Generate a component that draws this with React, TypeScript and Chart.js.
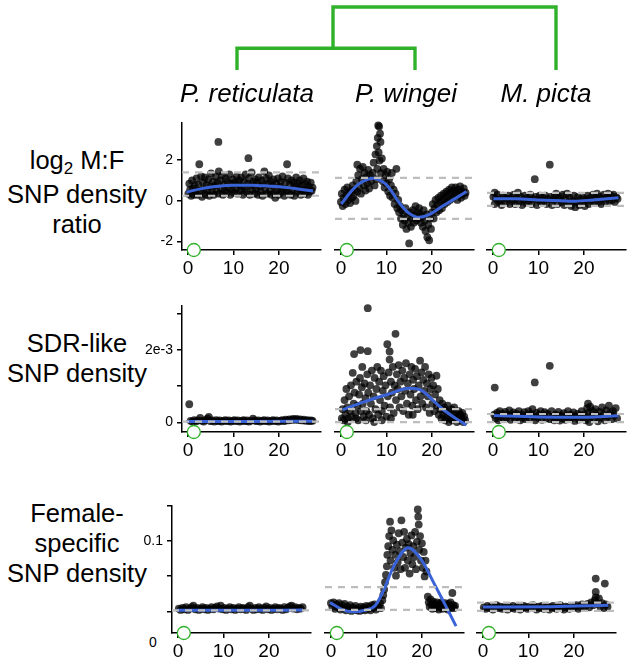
import React, { useEffect, useRef } from 'react';
import { Chart, registerables } from 'chart.js';
Chart.register(...registerables);

type P = [number, number];

// ---------------- data ----------------
const SPECIES = ['P. reticulata', 'P. wingei', 'M. picta'];
const X_MIN = -1.3;
const X_MAX = 29.3;
const X_TICKS = [0, 10, 20];
const MARKER_X = 1.3;

// dendrogram: leaf x (ret, wing, picta), root join x, heights
const DENDRO_LEAF_X = [237, 415, 556];
const DENDRO_JOIN_X = 333;
const DENDRO_CLADE_H = 1;
const DENDRO_ROOT_H = 2.9;

// Row 1: log2 M:F SNP density ratio
const R1_Y_MIN = -2.42, R1_Y_MAX = 3.86;
const R1_TICKS = [-2, 0, 2];
const retMF: P[] = [[0.1,0.35],[0.3,0.85],[0.5,0.55],[0.7,0.25],[0.9,1.0],[1.1,0.6],[1.3,0.3],[1.5,0.75],[1.7,0.45],[1.9,1.1],[2.1,0.3],[2.3,0.8],[2.5,1.8],[2.7,0.5],[2.9,1.2],[3.1,0.2],[3.3,0.9],[3.5,0.55],[3.7,1.15],[3.9,0.3],[4.1,0.8],[4.3,0.5],[4.5,1.05],[4.7,0.25],[4.9,0.7],[5.1,1.35],[5.3,0.45],[5.5,0.95],[5.7,0.3],[5.9,0.75],[6.1,1.2],[6.3,0.5],[6.5,0.9],[6.7,2.9],[6.8,1.45],[6.9,0.35],[7.1,1.0],[7.3,0.6],[7.5,1.25],[7.7,0.3],[7.9,0.8],[8.1,0.55],[8.3,1.1],[8.5,0.4],[8.7,0.95],[8.9,0.65],[9.1,1.3],[9.3,0.3],[9.5,0.85],[9.7,0.55],[9.9,1.05],[10.1,0.4],[10.3,0.9],[10.5,0.6],[10.7,1.2],[10.9,0.35],[11.1,0.8],[11.3,1.0],[11.5,0.5],[11.7,1.15],[11.9,0.7],[12.1,0.3],[12.3,0.95],[12.5,0.6],[12.7,1.3],[12.9,0.45],[13.1,0.85],[13.3,2.1],[13.4,1.1],[13.6,0.3],[13.8,0.75],[14.0,1.4],[14.2,0.55],[14.4,0.95],[14.6,0.35],[14.8,1.05],[15.0,0.6],[15.2,0.9],[15.4,0.3],[15.6,1.15],[15.8,0.7],[16.0,0.45],[16.2,1.0],[16.4,0.25],[16.6,0.8],[16.8,1.45],[17.0,0.55],[17.2,1.1],[17.4,0.35],[17.6,0.85],[17.8,1.25],[18.0,0.5],[18.2,0.95],[18.4,0.3],[18.6,0.75],[18.8,1.05],[19.0,0.4],[19.2,0.15],[19.4,0.85],[19.6,0.55],[19.8,1.1],[20.0,0.3],[20.2,0.7],[20.4,0.95],[20.6,0.45],[20.8,1.2],[21.0,0.6],[21.2,0.25],[21.4,0.9],[21.6,0.5],[21.8,1.8],[22.0,1.1],[22.2,0.4],[22.4,0.8],[22.6,0.3],[22.8,1.0],[23.0,0.55],[23.2,0.9],[23.4,0.25],[23.6,0.7],[23.8,1.15],[24.0,0.45],[24.2,0.85],[24.4,0.6],[24.6,1.0],[24.8,0.3],[25.0,0.75],[25.2,0.5],[25.4,1.1],[25.6,0.35],[25.8,0.8],[26.0,0.55],[26.2,0.95],[26.4,0.3],[26.6,0.7],[26.8,0.45],[27.0,0.9],[27.2,0.5],[27.4,0.65]];
const retMFCurve: P[] = [[-0.3,0.43],[3,0.6],[6,0.7],[10,0.77],[14,0.77],[18,0.72],[22,0.65],[25,0.56],[27.5,0.48]];
const retMFDash = [0.25, 1.4];

const wingMF: P[] = [[0.0,-0.1],[0.2,0.3],[0.4,-0.3],[0.6,0.1],[0.8,0.5],[1.0,-0.2],[1.2,0.2],[1.4,0.6],[1.6,0.0],[1.8,0.35],[2.0,-0.15],[2.2,0.45],[2.4,0.1],[2.6,0.7],[2.8,0.2],[3.0,0.5],[3.2,-0.05],[3.4,0.9],[3.6,1.7],[3.6,0.4],[3.8,1.2],[4.0,0.6],[4.2,1.5],[4.4,0.3],[4.6,1.0],[4.8,1.6],[5.0,0.7],[5.2,1.3],[5.4,0.45],[5.6,1.1],[5.8,0.8],[6.0,1.45],[6.2,0.55],[6.4,1.2],[6.6,0.9],[7.0,1.3],[7.2,1.8],[7.4,0.7],[7.6,2.2],[7.8,1.0],[7.9,2.6],[8.0,1.5],[8.1,3.0],[8.2,3.6],[8.4,3.55],[8.3,2.3],[8.6,3.2],[8.5,1.9],[8.7,2.8],[8.8,1.3],[9.0,2.0],[9.2,0.9],[9.4,1.5],[9.6,0.6],[9.8,1.2],[10.0,0.8],[10.2,1.35],[10.4,0.4],[10.6,1.0],[10.8,0.2],[11.0,0.7],[11.2,1.3],[11.4,0.1],[11.6,0.5],[11.8,-0.2],[12.0,0.3],[12.2,1.5],[12.4,-0.4],[12.6,0.0],[12.8,-0.6],[13.0,-0.3],[13.2,-0.9],[13.4,-0.5],[13.6,-1.2],[13.8,-0.7],[14.0,-1.0],[14.2,-0.4],[14.4,-1.4],[14.6,-0.8],[14.8,-1.1],[15.0,-2.1],[15.2,-0.6],[15.4,-1.3],[15.6,-0.9],[15.8,-0.5],[16.0,-1.1],[16.2,-0.75],[16.4,-0.3],[16.6,-1.0],[16.8,-0.6],[17.0,-0.9],[17.2,-0.4],[17.4,-0.7],[17.6,-1.1],[17.8,-0.8],[18.0,-1.3],[18.2,-0.5],[18.4,-1.0],[18.6,-1.5],[18.8,-0.7],[19.0,-1.8],[19.2,-1.2],[19.4,-1.95],[19.6,-0.9],[19.8,-1.4],[20.0,-0.6],[20.2,-0.2],[20.4,-0.9],[20.6,-0.4],[20.8,0.0],[21.0,-0.6],[21.2,-0.25],[21.4,0.1],[21.6,-0.5],[21.8,-0.1],[22.0,0.2],[22.2,-0.4],[22.4,0.0],[22.6,0.3],[22.8,-0.2],[23.0,0.15],[23.2,0.4],[23.4,-0.1],[23.6,0.25],[23.8,0.5],[24.0,0.0],[24.2,0.35],[24.4,0.6],[24.6,0.1],[24.8,0.45],[25.0,0.2],[25.2,0.6],[25.4,0.3],[25.6,0.0],[25.8,0.5],[26.0,0.25],[26.2,0.65],[26.4,0.1],[26.6,0.4],[26.8,0.3],[27.0,0.55],[27.2,0.2],[27.4,0.35]];
const wingMFCurve: P[] = [[0.1,-0.2],[2,0.35],[4,0.78],[7.2,1.05],[9,0.9],[10.4,0.64],[12.9,-0.16],[15,-0.65],[17.2,-0.84],[19.5,-0.7],[22.2,-0.32],[25,0.05],[27.6,0.4]];
const wingMFDash = [-0.92, 1.06];

const picMF: P[] = [[0.1,0.15],[0.4,-0.2],[0.7,0.05],[1.0,0.25],[1.3,-0.1],[1.6,0.0],[1.9,-0.25],[2.2,0.2],[2.5,0.1],[2.8,-0.15],[3.1,0.05],[3.4,0.2],[3.7,-0.2],[4.0,0.1],[4.3,-0.05],[4.6,0.25],[4.9,-0.2],[5.2,0.05],[5.5,0.35],[5.8,-0.1],[6.1,0.15],[6.4,-0.25],[6.7,0.0],[7.0,0.2],[7.3,-0.15],[7.6,0.1],[7.9,-0.05],[8.2,0.25],[8.5,-0.2],[8.8,0.05],[9.2,1.0],[9.4,0.15],[9.7,-0.25],[10.0,0.0],[10.3,0.2],[10.6,-0.15],[10.9,0.1],[11.2,-0.05],[11.5,0.2],[11.8,-0.2],[12.1,0.05],[12.5,1.7],[12.7,0.15],[13.0,-0.25],[13.3,0.0],[13.6,0.2],[13.9,0.3],[14.2,-0.2],[14.5,0.05],[14.8,0.15],[15.1,-0.1],[15.4,0.25],[15.7,-0.25],[16.0,0.0],[16.3,0.3],[16.6,-0.15],[16.9,0.1],[17.2,-0.3],[17.5,-0.05],[17.8,0.2],[18.1,-0.35],[18.4,-0.1],[18.7,0.15],[19.0,-0.25],[19.3,0.05],[19.6,-0.15],[19.9,0.1],[20.2,-0.3],[20.5,0.0],[20.8,0.2],[21.1,-0.2],[21.4,0.1],[21.7,-0.05],[22.0,0.25],[22.3,-0.15],[22.6,0.1],[22.9,0.3],[23.2,-0.1],[23.5,0.15],[23.8,-0.2],[24.1,0.05],[24.4,0.25],[24.7,-0.1],[25.0,0.1],[25.3,0.3],[25.6,-0.05],[25.9,0.2],[26.2,0.0],[26.5,0.25],[26.8,-0.1],[27.1,0.15],[27.4,0.05],[0.4,0.35]];
const picMFCurve: P[] = [[0.1,0.05],[5,0.05],[10,0.0],[15,-0.04],[18,-0.06],[22,0.0],[27.6,0.1]];
const picMFDash = [-0.29, 0.34];

// Row 2: SDR-like SNP density (values in units of 1e-3)
const SDR_UNIT = 1e-3;
const R2_Y_MIN = -0.27, R2_Y_MAX = 3.24;
const R2_TICKS = [0, 1, 2, 3];
const R2_LABELED = [0, 2];
const retSDR: P[] = [[0.3,0.5],[0.6,0.04],[1.0,0.02],[1.4,0.06],[1.8,0.03],[2.2,0.05],[2.7,0.12],[3.1,0.04],[3.5,0.02],[3.9,0.06],[4.3,0.1],[4.6,0.15],[5.0,0.03],[5.4,0.05],[5.8,0.02],[6.2,0.06],[6.6,0.03],[7.0,0.05],[7.4,0.02],[7.8,0.04],[8.2,0.06],[8.6,0.03],[9.0,0.05],[9.4,0.02],[9.8,0.04],[10.2,0.06],[10.6,0.03],[11.0,0.05],[11.4,0.02],[11.8,0.04],[12.2,0.06],[12.6,0.03],[13.0,0.05],[13.4,0.02],[13.8,0.04],[14.3,0.1],[14.7,0.05],[15.1,0.03],[15.5,0.05],[15.9,0.02],[16.3,0.04],[16.7,0.06],[17.1,0.03],[17.5,0.05],[17.9,0.02],[18.3,0.04],[18.7,0.06],[19.1,0.03],[19.5,0.05],[19.9,0.02],[20.3,0.04],[20.7,0.06],[21.1,0.03],[21.5,0.07],[21.9,0.05],[22.3,0.08],[22.7,0.06],[23.1,0.09],[23.5,0.07],[23.9,0.09],[24.3,0.06],[24.7,0.08],[25.1,0.05],[25.5,0.07],[25.9,0.04],[26.3,0.06],[26.7,0.03],[27.1,0.05],[27.4,0.04]];
const retSDRCurve: P[] = [[-0.3,0.02],[13,0.02],[27.5,0.03]];
const retSDRDash = [0.015];

const wingSDR: P[] = [[0.2,0.1],[0.4,0.35],[0.6,0.05],[0.8,0.6],[1.0,0.2],[1.2,0.9],[1.4,0.4],[1.5,0.0],[1.6,0.1],[1.8,0.7],[2.0,0.3],[2.2,1.0],[2.4,0.15],[2.6,1.34],[2.8,0.5],[2.9,1.85],[3.0,0.8],[3.2,0.25],[3.3,0.1],[3.4,1.1],[3.6,0.45],[3.8,0.05],[4.0,0.75],[4.2,1.2],[4.3,1.96],[4.4,0.3],[4.6,0.95],[4.7,1.5],[4.8,0.5],[5.0,0.15],[5.2,1.05],[5.4,0.65],[5.5,0.05],[5.6,0.3],[5.8,1.3],[5.9,1.93],[5.9,3.1],[6.0,0.8],[6.2,0.2],[6.4,1.0],[6.6,0.5],[6.8,1.4],[7.0,0.1],[7.2,0.7],[7.3,0.0],[7.4,1.2],[7.6,0.35],[7.8,0.9],[8.0,1.5],[8.2,0.2],[8.4,1.1],[8.6,0.6],[8.8,1.4],[9.0,0.3],[9.0,0.05],[9.2,0.85],[9.4,1.25],[9.6,0.45],[9.8,1.0],[10.0,0.15],[10.2,2.12],[10.3,0.7],[10.5,1.35],[10.7,1.92],[10.7,1.7],[10.8,0.4],[11.0,1.1],[11.0,0.1],[11.2,0.8],[11.4,1.5],[11.6,0.25],[11.8,1.0],[12.0,2.4],[12.1,0.6],[12.3,1.3],[12.5,0.9],[12.7,1.55],[12.9,0.4],[13.1,1.1],[13.3,0.7],[13.5,1.4],[13.7,0.3],[13.9,1.2],[14.1,0.85],[14.3,1.6],[14.5,0.5],[14.7,1.05],[14.9,0.2],[15.1,1.3],[15.3,0.75],[15.5,1.5],[15.7,0.45],[15.8,0.2],[15.9,1.15],[16.1,0.9],[16.3,1.45],[16.5,0.6],[16.7,1.25],[16.9,0.35],[17.1,1.0],[17.4,1.67],[17.5,0.7],[17.7,1.35],[17.9,0.5],[18.1,1.15],[18.3,0.85],[18.5,1.5],[18.7,0.4],[18.9,1.05],[19.1,0.7],[19.3,1.3],[19.5,0.25],[19.7,0.9],[19.9,1.2],[20.1,0.5],[20.3,1.0],[20.5,0.3],[20.7,0.75],[21.0,1.26],[21.1,0.45],[21.3,0.9],[21.5,0.2],[21.7,0.6],[21.9,0.35],[22.1,0.1],[22.3,0.5],[22.5,0.2],[22.7,0.4],[22.9,0.05],[23.1,0.3],[23.3,0.15],[23.5,0.45],[23.7,0.0],[23.9,0.25],[24.1,0.1],[24.3,0.35],[24.5,0.05],[24.7,0.2],[24.9,0.4],[25.1,0.1],[25.3,0.25],[25.5,0.0],[25.7,0.15],[25.9,0.3],[26.1,0.05],[26.3,0.2],[26.5,0.1],[26.7,0.25],[26.9,0.0],[27.1,0.15],[27.3,0.05]];
const wingSDRCurve: P[] = [[0.4,0.33],[5,0.55],[10.2,0.75],[15,0.92],[17.6,0.87],[20,0.62],[22.2,0.37],[25,0.12],[27.6,-0.08]];
const wingSDRDash = [0.0, 0.35];

const picSDR: P[] = [[0.4,0.94],[0.3,0.2],[0.6,0.1],[0.9,0.25],[1.2,0.05],[1.5,0.3],[1.8,0.15],[2.1,0.22],[2.4,0.08],[2.7,0.28],[3.0,0.12],[3.3,0.2],[3.6,0.32],[3.9,0.06],[4.2,0.18],[4.5,0.26],[4.8,0.1],[5.1,0.22],[5.4,0.14],[5.7,0.3],[6.0,0.05],[6.3,0.2],[6.6,0.12],[6.9,0.27],[7.2,0.08],[7.5,0.18],[7.8,0.3],[8.1,0.1],[8.4,0.22],[8.7,0.35],[9.0,0.15],[9.2,1.08],[9.3,0.05],[9.6,0.25],[9.9,0.12],[10.2,0.2],[10.5,0.3],[10.8,0.06],[11.1,0.18],[11.4,0.27],[11.7,0.1],[12.0,0.22],[12.5,1.53],[12.6,0.08],[12.9,0.3],[13.2,0.15],[13.5,0.05],[13.8,0.2],[14.1,0.12],[14.4,0.28],[14.7,0.04],[15.0,0.18],[15.3,0.1],[15.6,0.24],[15.9,0.06],[16.2,0.16],[16.5,0.3],[16.8,0.08],[17.1,0.2],[17.4,0.12],[17.7,0.26],[18.0,0.03],[18.3,0.15],[18.6,0.22],[18.9,0.07],[19.2,0.18],[19.5,0.3],[19.8,0.1],[20.1,0.2],[20.4,0.05],[20.7,0.38],[20.9,0.5],[21.0,0.25],[21.2,0.0],[21.4,0.42],[21.6,0.15],[21.9,0.3],[22.2,0.08],[22.5,0.35],[22.8,0.18],[23.1,0.02],[23.4,0.28],[23.7,0.12],[24.0,0.4],[24.3,0.2],[24.6,0.05],[24.9,0.32],[25.2,0.15],[25.5,0.45],[25.8,0.25],[26.1,0.08],[26.4,0.3],[26.7,0.18],[27.0,0.38],[27.3,0.1]];
const picSDRCurve: P[] = [[0.2,0.18],[10,0.14],[18,0.13],[27.6,0.17]];
const picSDRDash = [0.0, 0.22];

// Row 3: Female-specific SNP density
const R3_Y_MIN = -0.0306, R3_Y_MAX = 0.15;
const R3_TICKS = [0, 0.05, 0.1, 0.15];
const R3_LABELED = [0.1];
const retFem: P[] = [[0.2,0.004],[0.6,0.002],[1.0,0.005],[1.4,0.003],[1.8,0.006],[2.2,0.002],[2.6,0.004],[3.0,0.006],[3.4,0.008],[3.8,0.003],[4.2,0.005],[4.6,0.002],[5.0,0.004],[5.4,0.006],[5.8,0.003],[6.2,0.005],[6.6,0.002],[7.0,0.004],[7.4,0.006],[7.8,0.003],[8.2,0.005],[8.6,0.007],[9.0,0.004],[9.4,0.008],[9.8,0.003],[10.2,0.005],[10.6,0.002],[11.0,0.004],[11.4,0.006],[11.8,0.003],[12.2,0.005],[12.6,0.002],[13.0,0.004],[13.4,0.006],[13.8,0.003],[14.2,0.005],[14.6,0.004],[15.0,0.002],[15.4,0.006],[15.8,0.008],[16.2,0.004],[16.6,0.002],[17.0,0.005],[17.4,0.003],[17.8,0.006],[18.2,0.004],[18.6,0.002],[19.0,0.005],[19.4,0.007],[19.8,0.003],[20.2,0.005],[20.6,0.002],[21.0,0.004],[21.4,0.006],[21.8,0.003],[22.2,0.005],[22.6,0.004],[23.0,0.002],[23.4,0.006],[23.8,0.003],[24.2,0.005],[24.6,0.007],[25.0,0.008],[25.4,0.004],[25.8,0.006],[26.2,0.003],[26.6,0.005],[27.0,0.004],[27.4,0.006]];
const retFemCurve: P[] = [[-0.3,0.0015],[13,0.0015],[27.5,0.0018]];
const retFemDash = [0.0015];

const wingFem: P[] = [[0.0,0.011],[0.3,0.006],[0.6,0.012],[0.9,0.003],[1.2,0.009],[1.5,0.005],[1.8,0.011],[2.1,0.002],[2.4,0.008],[2.7,0.004],[3.0,0.01],[3.3,0.001],[3.6,0.006],[3.9,0.003],[4.2,0.008],[4.5,0.0],[4.8,0.005],[5.1,0.002],[5.4,0.007],[5.7,0.001],[6.0,0.004],[6.3,0.0],[6.6,0.006],[6.9,0.002],[7.2,0.005],[7.5,0.001],[7.8,0.007],[8.1,0.003],[8.4,0.006],[8.7,0.001],[9.0,0.008],[9.3,0.004],[9.6,0.009],[9.9,0.002],[10.2,0.007],[10.5,0.005],[10.8,0.011],[11.0,0.004],[11.3,0.015],[11.5,0.022],[11.7,0.03],[11.9,0.04],[12.1,0.05],[12.3,0.062],[12.4,0.078],[12.6,0.09],[12.8,0.104],[13.0,0.124],[13.1,0.07],[13.3,0.112],[13.5,0.085],[13.7,0.098],[13.9,0.06],[14.1,0.078],[14.3,0.049],[14.5,0.092],[14.7,0.068],[14.9,0.108],[15.1,0.083],[15.3,0.058],[15.5,0.126],[15.7,0.095],[15.9,0.075],[16.1,0.11],[16.3,0.06],[16.5,0.088],[16.7,0.1],[16.9,0.07],[17.1,0.093],[17.3,0.052],[17.5,0.08],[17.7,0.105],[17.9,0.065],[18.1,0.09],[18.3,0.075],[18.5,0.11],[18.7,0.058],[18.9,0.096],[19.1,0.141],[19.2,0.131],[19.3,0.12],[19.4,0.085],[19.6,0.104],[19.8,0.07],[20.0,0.094],[20.2,0.06],[20.4,0.082],[20.6,0.048],[20.8,0.07],[21.0,0.055],[21.3,0.02],[21.5,0.012],[21.7,0.006],[21.9,0.016],[22.1,0.009],[22.3,0.003],[22.5,0.013],[22.7,0.006],[22.9,0.01],[23.1,0.004],[23.3,0.012],[23.5,0.007],[23.7,0.002],[23.9,0.01],[24.1,0.005],[24.3,0.012],[24.5,0.003],[24.7,0.009],[24.9,0.006],[25.1,0.011],[25.3,0.004],[25.5,0.008],[25.7,0.002],[25.9,0.01],[26.1,0.005],[26.3,0.012],[26.5,0.004],[26.7,0.025],[26.9,0.008],[27.1,0.004],[27.3,0.007]];
const wingFemCurve: P[] = [[-0.2,0.0116],[2.5,0.002],[4.8,-0.001],[7.5,0.001],[9.8,0.008],[11.6,0.029],[13.8,0.062],[17,0.088],[19.9,0.071],[22.7,0.038],[25,0.01],[27.5,-0.021]];
const wingFemDash = [0.0014, 0.033];

const picFem: P[] = [[0.2,0.005],[0.6,0.003],[1.0,0.007],[1.4,0.004],[1.8,0.006],[2.2,0.002],[2.6,0.005],[3.0,0.008],[3.4,0.004],[3.8,0.006],[4.2,0.003],[4.6,0.005],[5.0,0.007],[5.4,0.002],[5.8,0.005],[6.2,0.004],[6.6,0.007],[7.0,0.003],[7.4,0.005],[7.8,0.006],[8.2,0.002],[8.6,0.004],[9.0,0.007],[9.4,0.005],[9.8,0.003],[10.2,0.006],[10.6,0.004],[11.0,0.008],[11.4,0.005],[11.8,0.002],[12.2,0.006],[12.6,0.004],[13.0,0.007],[13.4,0.003],[13.8,0.005],[14.2,0.006],[14.6,0.002],[15.0,0.005],[15.4,0.007],[15.8,0.004],[16.2,0.003],[16.6,0.006],[17.0,0.008],[17.4,0.004],[17.8,0.002],[18.2,0.006],[18.6,0.005],[19.0,0.003],[19.4,0.007],[19.8,0.004],[20.2,0.006],[20.6,0.008],[21.0,0.003],[21.4,0.006],[21.8,0.009],[22.2,0.004],[22.6,0.007],[23.0,0.01],[23.4,0.005],[23.8,0.012],[24.2,0.008],[24.6,0.015],[24.8,0.019],[24.8,0.0265],[24.8,0.045],[25.2,0.01],[25.5,0.0176],[25.8,0.006],[26.2,0.011],[26.6,0.004],[26.8,0.038],[27.0,0.009],[27.4,0.006]];
const picFemCurve: P[] = [[0,0.0056],[15,0.006],[27.6,0.008]];
const picFemDash = [0.0, 0.0116];

// ---------------- styles / layout ----------------
const FONT = '"Liberation Sans", Arial, Helvetica, sans-serif';
const GREEN = '#2fb12a';
const BLUE = '#3a63d8';
const DASH_GREY = '#bdbdbd';
const WY = 50;
const HX = 34;
const PAD_T = 10;
const PAD_R = 6;
const PANEL_W = 141;
const ROWS = [
  { top: 120, h: 130, lefts: [182, 335, 487] },
  { top: 303, h: 129, lefts: [182, 335, 487] },
  { top: 503, h: 130, lefts: [172, 325, 477] },
];

type PanelProps = {
  left: number; top: number; h: number;
  points: P[]; curve: P[]; dashes: number[]; scale: number;
  yMin: number; yMax: number; yTicks: number[]; yLabel: (v: number) => string; showY: boolean;
};

function Panel(props: PanelProps) {
  const ref = useRef<HTMLCanvasElement>(null);
  const { left, top, h, points, curve, dashes, scale, yMin, yMax, yTicks, yLabel, showY } = props;
  const cw = WY + PANEL_W + PAD_R;
  const ch = PAD_T + h + HX;
  useEffect(() => {
    const toXY = (arr: P[]) => arr.map(([x, y]) => ({ x, y: y * scale }));
    const datasets: any[] = [
      {
        data: [{ x: MARKER_X, y: yMin * scale }],
        pointRadius: 6.5, pointBackgroundColor: '#fff', pointBorderColor: GREEN, pointBorderWidth: 1.3,
        clip: false, order: 0,
      },
      ...dashes.map((v) => ({
        data: [{ x: X_MIN, y: v * scale }, { x: X_MAX, y: v * scale }],
        showLine: true, borderColor: DASH_GREY, borderWidth: 2.2, borderDash: [7, 6], pointRadius: 0, order: 1,
      })),
      {
        data: toXY(curve), showLine: true, borderColor: BLUE, borderWidth: 3, pointRadius: 0,
        cubicInterpolationMode: 'monotone', order: 2,
      },
      {
        data: toXY(points), pointRadius: 3.9, pointBackgroundColor: 'rgba(0,0,0,0.75)', pointBorderWidth: 0, order: 3,
      },
    ];
    const chart = new Chart(ref.current as HTMLCanvasElement, {
      type: 'scatter',
      data: { datasets },
      options: {
        animation: false,
        responsive: false,
        events: [],
        layout: { padding: { top: PAD_T, right: PAD_R, left: 0, bottom: 0 } },
        plugins: { legend: { display: false }, tooltip: { enabled: false } },
        scales: {
          x: {
            type: 'linear', min: X_MIN, max: X_MAX,
            afterBuildTicks: (s: any) => { s.ticks = X_TICKS.map((v) => ({ value: v })); },
            afterFit: (s: any) => { s.height = HX; },
            grid: { drawOnChartArea: false, drawTicks: true, tickLength: 5, color: '#000', lineWidth: 1.5 },
            border: { display: true, color: '#000', width: 1.5 },
            ticks: { font: { family: FONT, size: 19 }, color: '#000', padding: 2, maxRotation: 0, autoSkip: false },
          },
          y: {
            type: 'linear', min: yMin * scale, max: yMax * scale,
            afterBuildTicks: (s: any) => { s.ticks = yTicks.map((v) => ({ value: v * scale })); },
            afterFit: (s: any) => { s.width = WY; },
            grid: { display: showY, drawOnChartArea: false, drawTicks: true, tickLength: 5, color: '#000', lineWidth: 1.5 },
            border: { display: showY, color: '#000', width: 1.5 },
            ticks: {
              display: showY, font: { family: FONT, size: 14 }, color: '#000', padding: 4, autoSkip: false,
              callback: (v: any) => yLabel(Number(v) / scale),
            },
          },
        },
      } as any,
    });
    return () => chart.destroy();
  }, []);
  return (
    <canvas
      ref={ref}
      width={cw}
      height={ch}
      style={{ position: 'absolute', left: left - WY, top: top - PAD_T, width: cw, height: ch }}
    />
  );
}

function Dendrogram() {
  const ref = useRef<HTMLCanvasElement>(null);
  useEffect(() => {
    const [a, b, c] = DENDRO_LEAF_X;
    const seg = (pts: P[]) => ({
      data: pts.map(([x, y]) => ({ x, y })), showLine: true, borderColor: GREEN, borderWidth: 3.4,
      pointRadius: 0, clip: false, borderJoinStyle: 'miter', borderCapStyle: 'butt',
    });
    const chart = new Chart(ref.current as HTMLCanvasElement, {
      type: 'scatter',
      data: {
        datasets: [
          seg([[a, 0], [a, DENDRO_CLADE_H], [b, DENDRO_CLADE_H], [b, 0]]),
          seg([[DENDRO_JOIN_X, DENDRO_CLADE_H], [DENDRO_JOIN_X, DENDRO_ROOT_H], [c, DENDRO_ROOT_H], [c, 0]]),
        ],
      },
      options: {
        animation: false, responsive: false, events: [],
        layout: { padding: { top: 7, bottom: 10, left: 0, right: 0 } },
        plugins: { legend: { display: false }, tooltip: { enabled: false } },
        scales: {
          x: { type: 'linear', display: false, min: 0, max: 633 },
          y: { type: 'linear', display: false, min: 0, max: DENDRO_ROOT_H },
        },
      } as any,
    });
    return () => chart.destroy();
  }, []);
  return <canvas ref={ref} width={633} height={80} style={{ position: 'absolute', left: 0, top: 0 }} />;
}

const fmtR1 = (v: number) => String(Math.round(v));
const fmtR2 = (v: number) => (R2_LABELED.some((t) => Math.abs(t - v) < 1e-9) ? (v === 0 ? '0' : `${v}e-3`) : '');
const fmtR3 = (v: number) => (R3_LABELED.some((t) => Math.abs(t - v) < 1e-9) ? String(v) : '');

const PANELS = [
  { row: 0, data: [[retMF, retMFCurve, retMFDash], [wingMF, wingMFCurve, wingMFDash], [picMF, picMFCurve, picMFDash]], scale: 1, yMin: R1_Y_MIN, yMax: R1_Y_MAX, ticks: R1_TICKS, fmt: fmtR1 },
  { row: 1, data: [[retSDR, retSDRCurve, retSDRDash], [wingSDR, wingSDRCurve, wingSDRDash], [picSDR, picSDRCurve, picSDRDash]], scale: SDR_UNIT, yMin: R2_Y_MIN, yMax: R2_Y_MAX, ticks: R2_TICKS, fmt: fmtR2 },
  { row: 2, data: [[retFem, retFemCurve, retFemDash], [wingFem, wingFemCurve, wingFemDash], [picFem, picFemCurve, picFemDash]], scale: 1, yMin: R3_Y_MIN, yMax: R3_Y_MAX, ticks: R3_TICKS, fmt: fmtR3 },
];

const labelStyle: React.CSSProperties = {
  position: 'absolute', left: 0, width: 154, textAlign: 'center', fontFamily: FONT, fontSize: 25.5,
  lineHeight: '30px', color: '#000', whiteSpace: 'nowrap',
};

const HEADER_CX = [247, 406, 546];

export default function App() {
  return (
    <div style={{ position: 'absolute', left: 0, top: 0, width: 633, height: 663, background: '#fff', overflow: 'hidden' }}>
      <Dendrogram />
      {SPECIES.map((s, i) => (
        <div key={s} style={{ position: 'absolute', left: HEADER_CX[i] - 100, width: 200, top: 78, textAlign: 'center', fontFamily: FONT, fontStyle: 'italic', fontSize: 26, lineHeight: '30px', color: '#000' }}>{s}</div>
      ))}
      <div style={{ ...labelStyle, top: 145 }}>
        <div>log<span style={{ fontSize: 17, position: 'relative', top: 5 }}>2</span> M:F</div>
        <div>SNP density</div>
        <div>ratio</div>
      </div>
      <div style={{ ...labelStyle, top: 328 }}>
        <div>SDR-like</div>
        <div>SNP density</div>
      </div>
      <div style={{ ...labelStyle, top: 498 }}>
        <div>Female-</div>
        <div>specific</div>
        <div>SNP density</div>
      </div>
      <div style={{ position: 'absolute', left: 143, width: 20, top: 634, textAlign: 'center', fontFamily: FONT, fontSize: 14, lineHeight: '16px', color: '#000' }}>0</div>
      {PANELS.map((row) =>
        row.data.map(([pts, curve, dash], ci) => (
          <Panel
            key={`${row.row}-${ci}`}
            left={ROWS[row.row].lefts[ci]}
            top={ROWS[row.row].top}
            h={ROWS[row.row].h}
            points={pts as P[]}
            curve={curve as P[]}
            dashes={dash as number[]}
            scale={row.scale}
            yMin={row.yMin}
            yMax={row.yMax}
            yTicks={row.ticks}
            yLabel={row.fmt}
            showY={ci === 0}
          />
        ))
      )}
    </div>
  );
}
